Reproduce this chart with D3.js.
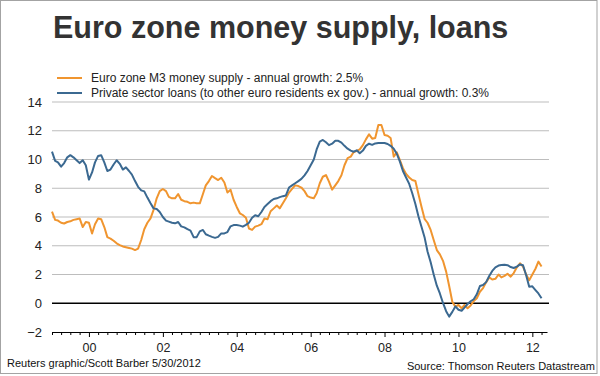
<!DOCTYPE html>
<html>
<head>
<meta charset="utf-8">
<script src="https://cdn.jsdelivr.net/npm/d3@7"></script>
<style>
body { margin: 0; background: #fff; }
svg { display: block; font-family: "Liberation Sans", Arial, sans-serif; }
</style>
</head>
<body>
<svg id="chart" width="600" height="376"></svg>
<script>
// monthly annual growth rates, Jan 1999 - Apr 2012
var firstYear = 1999;
var m3Growth = [
    6.37, 5.8, 5.75, 5.6, 5.55, 5.65, 5.7, 5.8, 5.85, 5.9, 5.3, 5.65,
    5.6, 4.85, 5.5, 5.9, 5.85, 5.3, 4.6, 4.5, 4.35, 4.17, 4.05, 3.95,
    3.9, 3.85, 3.8, 3.7, 3.8, 4.4, 5.15, 5.6, 5.9, 6.5, 7.3, 7.8,
    7.95, 7.8, 7.4, 7.3, 7.3, 7.6, 7.2, 7.1, 7.06, 6.95, 7.0, 6.95,
    6.95, 7.6, 8.2, 8.5, 8.85, 8.7, 8.57, 8.73, 8.4, 7.7, 7.9, 7.2,
    6.7, 6.26, 6.14, 5.95, 5.2, 5.1, 5.33, 5.4, 5.5, 5.9, 5.85, 6.4,
    6.6, 6.8, 6.6, 6.95, 7.3, 7.7, 7.95, 8.2, 8.15, 8.05, 7.8, 7.45,
    7.35, 7.3, 7.65, 8.35, 8.8, 8.92, 8.46, 7.9, 8.2, 8.5, 8.9, 9.6,
    10.1, 10.2, 10.5, 10.6, 10.7, 11.0, 11.4, 11.75, 11.45, 11.5, 12.4, 12.4,
    11.7, 11.65, 11.5, 10.2, 10.5, 9.95, 9.4, 9.0, 8.75, 8.57, 8.5, 7.6,
    6.7, 5.85, 5.6, 5.1, 4.4, 3.7, 3.4, 2.95, 2.2, 1.2, 0.1, -0.25,
    -0.12, -0.35, -0.12, -0.35, -0.15, 0.15, 0.35, 0.8, 1.05, 1.45, 1.8, 1.65,
    1.7, 2.0, 1.8, 1.9, 2.05, 1.85, 2.1, 2.5, 2.78, 2.55, 2.0, 1.6,
    2.0, 2.4, 2.9, 2.55
];
var loanGrowth = [
    10.55, 9.9, 9.8, 9.5, 9.75, 10.15, 10.3, 10.15, 9.95, 9.75, 9.95, 9.6,
    8.6, 9.1, 9.8, 10.25, 10.3, 9.8, 9.2, 9.3, 9.65, 9.95, 9.7, 9.3,
    9.45, 9.2, 8.95, 8.5, 8.1, 7.85, 7.78, 7.35, 6.95, 6.6, 6.55, 6.35,
    6.0, 5.75, 5.68, 5.6, 5.56, 5.65, 5.35, 5.28, 5.15, 5.05, 4.6, 4.6,
    5.0, 5.1, 4.8, 4.7, 4.62, 4.55, 4.62, 4.86, 4.86, 4.95, 5.35, 5.44,
    5.44, 5.4, 5.33, 5.45, 5.6, 5.95, 6.12, 6.05, 6.35, 6.7, 6.9, 7.1,
    7.25, 7.3, 7.38, 7.45, 7.5, 8.05, 8.2, 8.35, 8.5, 8.65, 8.9, 9.2,
    9.6, 10.0, 10.7, 11.25, 11.36, 11.2, 11.0, 11.1, 11.3, 11.3, 11.17, 10.95,
    10.75, 10.62, 10.54, 10.64, 10.43, 10.62, 10.95, 11.1, 11.02, 11.12, 11.15, 11.15,
    11.15, 11.08, 10.95, 10.75, 10.4, 9.85, 9.2, 8.75, 8.3, 7.65, 6.9, 6.05,
    5.3, 4.55, 3.6, 2.85, 2.0, 1.22, 0.68, 0.02, -0.55, -0.93, -0.6, -0.22,
    -0.45, -0.52, -0.3, -0.05, 0.14, 0.28, 0.62, 1.2, 1.27, 1.47, 1.9, 2.25,
    2.5, 2.62, 2.66, 2.68, 2.65, 2.52, 2.45, 2.55, 2.7, 2.64, 1.95, 1.15,
    1.18, 0.92, 0.68, 0.35
];
var yTicks = [-2, 0, 2, 4, 6, 8, 10, 12, 14];
var seriesNames = [
    "Euro zone M3 money supply - annual growth: 2.5%",
    "Private sector loans (to other euro residents ex gov.) - annual growth: 0.3%"
];
var seriesColors = ["#f0952f", "#3b6991"];
var titleText = "Euro zone money supply, loans";
var creditText = "Reuters graphic/Scott Barber 5/30/2012";
var sourceText = "Source: Thomson Reuters Datastream";

var svg = d3.select("#chart");
var plotLeft = 52, plotRight = 549, plotTop = 102, plotBottom = 332;

var x = d3.scaleTime()
    .domain([new Date(firstYear, 0, 1), new Date(2012, 4, 25)])
    .range([plotLeft, 547]);
var y = d3.scaleLinear()
    .domain([-2, 14])
    .range([plotBottom, plotTop]);

function toPoints(values)
{
    return values.map(function(v, i) { return {date: new Date(firstYear, i, 1), value: v}; });
}

// frame
svg.append("rect")
    .attr("x", 0.5).attr("y", 0.5)
    .attr("width", 596.5).attr("height", 373)
    .attr("fill", "none")
    .attr("stroke", "#a3a3a3");

svg.append("text")
    .attr("x", 53).attr("y", 38)
    .attr("font-size", "30.5px")
    .attr("font-weight", "bold")
    .attr("fill", "#333")
    .text(titleText);

// legend
var legend = svg.append("g").selectAll("g")
    .data(seriesNames)
    .enter().append("g")
    .attr("transform", function(d, i) { return "translate(57," + (78 + i * 15) + ")"; });
legend.append("line")
    .attr("x2", 25)
    .attr("stroke", function(d, i) { return seriesColors[i]; })
    .attr("stroke-width", 2);
legend.append("text")
    .attr("x", 34).attr("dy", "0.35em")
    .attr("font-size", "12px")
    .attr("fill", "#222")
    .text(function(d) { return d; });

// grid
svg.append("g").selectAll("line")
    .data(yTicks.filter(function(t) { return t > -2; }))
    .enter().append("line")
    .attr("x1", plotLeft).attr("x2", plotRight)
    .attr("y1", function(d) { return y(d); })
    .attr("y2", function(d) { return y(d); })
    .attr("stroke", function(d) { return d === 0 ? "#000" : "#bdbdbd"; })
    .attr("stroke-width", function(d) { return d === 0 ? 1.5 : 1; });

var yAxis = svg.append("g")
    .attr("transform", "translate(" + (plotLeft - 10) + ",0)")
    .call(d3.axisLeft(y).tickValues(yTicks).tickSize(0).tickPadding(0));
yAxis.select(".domain").remove();
yAxis.selectAll("text")
    .attr("font-size", "13px")
    .attr("font-family", "Liberation Sans, Arial, sans-serif")
    .attr("fill", "#222");

function isMajor(d) { return d.getMonth() === 0 && d.getFullYear() % 2 === 0; }

var xAxis = svg.append("g")
    .attr("transform", "translate(0," + plotBottom + ")")
    .call(d3.axisBottom(x)
        .ticks(d3.timeMonth.every(3))
        .tickSize(3)
        .tickSizeOuter(0)
        .tickPadding(8)
        .tickFormat(function(d) { return isMajor(d) ? d3.timeFormat("%y")(d) : ""; }));
xAxis.select(".domain").attr("stroke", "#000").attr("stroke-width", 1.2);
xAxis.selectAll(".tick line")
    .attr("stroke", "#000")
    .attr("y2", function(d) { return isMajor(d) ? 5 : 3; });
xAxis.selectAll("text")
    .attr("font-size", "12.5px")
    .attr("font-family", "Liberation Sans, Arial, sans-serif")
    .attr("fill", "#222");

var line = d3.line()
    .x(function(d) { return x(d.date); })
    .y(function(d) { return y(d.value); });

svg.append("g").selectAll("path")
    .data([m3Growth, loanGrowth])
    .enter().append("path")
    .attr("d", function(d) { return line(toPoints(d)); })
    .attr("fill", "none")
    .attr("stroke", function(d, i) { return seriesColors[i]; })
    .attr("stroke-width", 2)
    .attr("stroke-linejoin", "round");

svg.append("text")
    .attr("x", 7).attr("y", 367)
    .attr("font-size", "11px")
    .attr("fill", "#111")
    .text(creditText);

svg.append("text")
    .attr("x", 595).attr("y", 370)
    .attr("text-anchor", "end")
    .attr("font-size", "11px")
    .attr("fill", "#111")
    .text(sourceText);
</script>
</body>
</html>
